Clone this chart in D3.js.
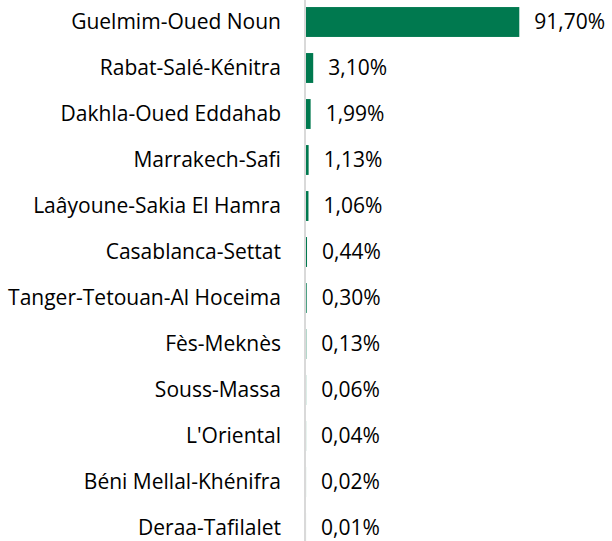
<!DOCTYPE html>
<html lang="fr">
<head>
  <meta charset="utf-8">
  <title>Répartition par région</title>
  <style>
  html, body {padding: 0; margin: 0; overflow: hidden; background: #fff}
  text {font-family: "Open Sans", sans-serif; fill: #000}
</style>
</head>
<body>
  <svg width="612" height="541"></svg>
  <script src="https://d3js.org/d3.v7.min.js"></script>
  <script>

  var regions = ["Guelmim-Oued Noun", "Rabat-Salé-Kénitra", "Dakhla-Oued Eddahab", "Marrakech-Safi",
    "Laâyoune-Sakia El Hamra", "Casablanca-Settat", "Tanger-Tetouan-Al Hoceima", "Fès-Meknès",
    "Souss-Massa", "L'Oriental", "Béni Mellal-Khénifra", "Deraa-Tafilalet"];
  var shares = [91.70, 3.10, 1.99, 1.13, 1.06, 0.44, 0.30, 0.13, 0.06, 0.04, 0.02, 0.01];

  var svg = d3.select("svg"),
      axisX = 306;

  // size the font so the longest label spans like in the original
  var probe = svg.append("text").style("font-size", "100px").text("Tanger-Tetouan-Al Hoceima");
  var fontSize = 273 / probe.node().getComputedTextLength() * 100;
  probe.remove();

  var y = d3.scaleBand()
    .domain(regions)
    .range([-1, 551])
    .paddingInner(0.35)
    .paddingOuter(0.175);

  var x = d3.scaleLinear()
    .domain([0, 100])
    .range([axisX, axisX + 232.6]);

  var fmt = function(v) { return d3.format(".2f")(v).replace(".", ",") + "%"; };

  var rows = regions.map(function(r, i) { return {name: r, value: shares[i]}; });

  svg.selectAll("rect.bar")
    .data(rows)
    .enter().append("rect")
      .attr("class", "bar")
      .attr("x", x(0))
      .attr("y", function(d) { return y(d.name); })
      .attr("width", function(d) { return x(d.value) - x(0); })
      .attr("height", y.bandwidth())
      .attr("fill", "#00794f");

  // category axis line
  svg.append("line")
    .attr("x1", axisX - 1).attr("x2", axisX - 1)
    .attr("y1", 0).attr("y2", 541)
    .attr("stroke", "#d9d9d9")
    .attr("stroke-width", 2);

  svg.selectAll("text.cat")
    .data(rows)
    .enter().append("text")
      .attr("class", "cat")
      .attr("x", 281)
      .attr("y", function(d) { return y(d.name) + y.bandwidth() / 2; })
      .attr("dy", "0.33em")
      .attr("text-anchor", "end")
      .style("font-size", fontSize + "px")
      .text(function(d) { return d.name; });

  svg.selectAll("text.val")
    .data(rows)
    .enter().append("text")
      .attr("class", "val")
      .attr("x", function(d) { return x(d.value) + 15; })
      .attr("y", function(d) { return y(d.name) + y.bandwidth() / 2; })
      .attr("dy", "0.33em")
      .style("font-size", fontSize + "px")
      .text(function(d) { return fmt(d.value); });

  </script>
</body>
</html>
